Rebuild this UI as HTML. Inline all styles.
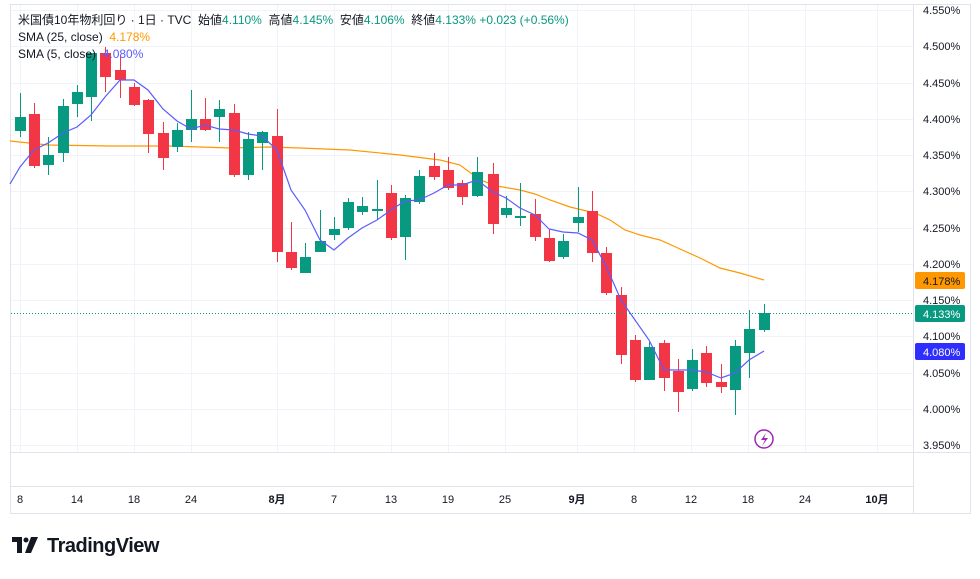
<!DOCTYPE html>
<html><head><meta charset="utf-8"><style>
body{margin:0;background:#fff;width:980px;height:574px;overflow:hidden;font-family:"Liberation Sans","Noto Sans CJK JP",sans-serif}
</style></head><body>
<svg width="980" height="574" viewBox="0 0 980 574" xmlns="http://www.w3.org/2000/svg" font-family="Liberation Sans, Noto Sans CJK JP, sans-serif">
<rect x="10.5" y="4.5" width="960" height="509" fill="#fff" stroke="#e0e3eb"/>
<g stroke="#f0f3fa" stroke-width="1">
<line x1="11" x2="913" y1="10.5" y2="10.5"/><line x1="11" x2="913" y1="46.5" y2="46.5"/><line x1="11" x2="913" y1="83.5" y2="83.5"/><line x1="11" x2="913" y1="119.5" y2="119.5"/><line x1="11" x2="913" y1="155.5" y2="155.5"/><line x1="11" x2="913" y1="191.5" y2="191.5"/><line x1="11" x2="913" y1="228.5" y2="228.5"/><line x1="11" x2="913" y1="264.5" y2="264.5"/><line x1="11" x2="913" y1="300.5" y2="300.5"/><line x1="11" x2="913" y1="336.5" y2="336.5"/><line x1="11" x2="913" y1="373.5" y2="373.5"/><line x1="11" x2="913" y1="409.5" y2="409.5"/><line x1="11" x2="913" y1="445.5" y2="445.5"/>
<line x1="20.5" x2="20.5" y1="5" y2="452"/><line x1="77.5" x2="77.5" y1="5" y2="452"/><line x1="134.5" x2="134.5" y1="5" y2="452"/><line x1="191.5" x2="191.5" y1="5" y2="452"/><line x1="277.5" x2="277.5" y1="5" y2="452"/><line x1="334.5" x2="334.5" y1="5" y2="452"/><line x1="391.5" x2="391.5" y1="5" y2="452"/><line x1="448.5" x2="448.5" y1="5" y2="452"/><line x1="505.5" x2="505.5" y1="5" y2="452"/><line x1="577.5" x2="577.5" y1="5" y2="452"/><line x1="634.5" x2="634.5" y1="5" y2="452"/><line x1="691.5" x2="691.5" y1="5" y2="452"/><line x1="748.5" x2="748.5" y1="5" y2="452"/><line x1="805.5" x2="805.5" y1="5" y2="452"/><line x1="877.5" x2="877.5" y1="5" y2="452"/>
</g>
<line x1="11" x2="970" y1="452.5" y2="452.5" stroke="#e0e3eb"/>
<line x1="11" x2="913" y1="486.5" y2="486.5" stroke="#e0e3eb"/>
<line x1="913.5" x2="913.5" y1="5" y2="513" stroke="#e0e3eb"/>
<polyline fill="none" stroke="#ff9800" stroke-width="1.2" points="10,141 48,145 110,146 170,146 230,148 270,147 300,148 350,150 400,155 440,160 460,165 480,180 497,186 520,190 535,194 550,200 570,207 595,213 610,220 625,230 640,235 660,240 680,249 700,258 720,268 740,273 764,280"/>
<g fill="#089981" stroke="#089981">
<line x1="20.5" x2="20.5" y1="93" y2="137"/><rect x="15" y="117" width="11" height="14" stroke="none"/>
<line x1="48.5" x2="48.5" y1="137" y2="175"/><rect x="43" y="155" width="11" height="10" stroke="none"/>
<line x1="63.5" x2="63.5" y1="99" y2="162"/><rect x="58" y="106" width="11" height="47" stroke="none"/>
<line x1="77.5" x2="77.5" y1="85" y2="117"/><rect x="72" y="92" width="11" height="12" stroke="none"/>
<line x1="91.5" x2="91.5" y1="53" y2="121"/><rect x="86" y="53" width="11" height="44" stroke="none"/>
<line x1="177.5" x2="177.5" y1="123" y2="152"/><rect x="172" y="130" width="11" height="17" stroke="none"/>
<line x1="191.5" x2="191.5" y1="90" y2="142"/><rect x="186" y="119" width="11" height="11" stroke="none"/>
<line x1="219.5" x2="219.5" y1="100" y2="142"/><rect x="214" y="109" width="11" height="8" stroke="none"/>
<line x1="248.5" x2="248.5" y1="132" y2="180"/><rect x="243" y="139" width="11" height="36" stroke="none"/>
<line x1="262.5" x2="262.5" y1="131" y2="170"/><rect x="257" y="132" width="11" height="11" stroke="none"/>
<line x1="305.5" x2="305.5" y1="243" y2="273"/><rect x="300" y="257" width="11" height="16" stroke="none"/>
<line x1="320.5" x2="320.5" y1="210" y2="252"/><rect x="315" y="241" width="11" height="11" stroke="none"/>
<line x1="334.5" x2="334.5" y1="217" y2="240"/><rect x="329" y="229" width="11" height="6" stroke="none"/>
<line x1="348.5" x2="348.5" y1="198" y2="230"/><rect x="343" y="202" width="11" height="26" stroke="none"/>
<line x1="362.5" x2="362.5" y1="197" y2="215"/><rect x="357" y="206" width="11" height="6" stroke="none"/>
<line x1="377.5" x2="377.5" y1="180" y2="220"/><rect x="372" y="209" width="11" height="2" stroke="none"/>
<line x1="405.5" x2="405.5" y1="195" y2="260"/><rect x="400" y="198" width="11" height="39" stroke="none"/>
<line x1="419.5" x2="419.5" y1="170" y2="204"/><rect x="414" y="176" width="11" height="26" stroke="none"/>
<line x1="477.5" x2="477.5" y1="157" y2="197"/><rect x="472" y="172" width="11" height="24" stroke="none"/>
<line x1="506.5" x2="506.5" y1="196" y2="218"/><rect x="501" y="208" width="11" height="7" stroke="none"/>
<line x1="520.5" x2="520.5" y1="183" y2="226"/><rect x="515" y="216" width="11" height="2" stroke="none"/>
<line x1="563.5" x2="563.5" y1="234" y2="259"/><rect x="558" y="241" width="11" height="16" stroke="none"/>
<line x1="578.5" x2="578.5" y1="187" y2="232"/><rect x="573" y="217" width="11" height="6" stroke="none"/>
<line x1="649.5" x2="649.5" y1="342" y2="380"/><rect x="644" y="347" width="11" height="33" stroke="none"/>
<line x1="692.5" x2="692.5" y1="349" y2="391"/><rect x="687" y="360" width="11" height="29" stroke="none"/>
<line x1="735.5" x2="735.5" y1="340" y2="415"/><rect x="730" y="346" width="11" height="44" stroke="none"/>
<line x1="749.5" x2="749.5" y1="310" y2="378"/><rect x="744" y="329" width="11" height="24" stroke="none"/>
<line x1="764.5" x2="764.5" y1="304" y2="332"/><rect x="759" y="313" width="11" height="17" stroke="none"/>
</g>
<g fill="#f23645" stroke="#f23645">
<line x1="34.5" x2="34.5" y1="103" y2="168"/><rect x="29" y="114" width="11" height="52" stroke="none"/>
<line x1="105.5" x2="105.5" y1="47" y2="92"/><rect x="100" y="53" width="11" height="24" stroke="none"/>
<line x1="120.5" x2="120.5" y1="55" y2="98"/><rect x="115" y="70" width="11" height="10" stroke="none"/>
<line x1="134.5" x2="134.5" y1="83" y2="106"/><rect x="129" y="87" width="11" height="18" stroke="none"/>
<line x1="148.5" x2="148.5" y1="99" y2="153"/><rect x="143" y="100" width="11" height="34" stroke="none"/>
<line x1="163.5" x2="163.5" y1="122" y2="170"/><rect x="158" y="133" width="11" height="25" stroke="none"/>
<line x1="205.5" x2="205.5" y1="98" y2="131"/><rect x="200" y="119" width="11" height="11" stroke="none"/>
<line x1="234.5" x2="234.5" y1="104" y2="177"/><rect x="229" y="113" width="11" height="62" stroke="none"/>
<line x1="277.5" x2="277.5" y1="109" y2="262"/><rect x="272" y="136" width="11" height="116" stroke="none"/>
<line x1="291.5" x2="291.5" y1="222" y2="270"/><rect x="286" y="252" width="11" height="16" stroke="none"/>
<line x1="391.5" x2="391.5" y1="185" y2="240"/><rect x="386" y="193" width="11" height="45" stroke="none"/>
<line x1="434.5" x2="434.5" y1="153" y2="180"/><rect x="429" y="166" width="11" height="11" stroke="none"/>
<line x1="448.5" x2="448.5" y1="157" y2="190"/><rect x="443" y="170" width="11" height="18" stroke="none"/>
<line x1="462.5" x2="462.5" y1="180" y2="205"/><rect x="457" y="183" width="11" height="14" stroke="none"/>
<line x1="493.5" x2="493.5" y1="163" y2="234"/><rect x="488" y="174" width="11" height="50" stroke="none"/>
<line x1="535.5" x2="535.5" y1="199" y2="241"/><rect x="530" y="214" width="11" height="23" stroke="none"/>
<line x1="549.5" x2="549.5" y1="229" y2="262"/><rect x="544" y="238" width="11" height="23" stroke="none"/>
<line x1="592.5" x2="592.5" y1="191" y2="262"/><rect x="587" y="211" width="11" height="42" stroke="none"/>
<line x1="606.5" x2="606.5" y1="247" y2="295"/><rect x="601" y="253" width="11" height="40" stroke="none"/>
<line x1="621.5" x2="621.5" y1="287" y2="364"/><rect x="616" y="295" width="11" height="60" stroke="none"/>
<line x1="635.5" x2="635.5" y1="335" y2="382"/><rect x="630" y="340" width="11" height="40" stroke="none"/>
<line x1="664.5" x2="664.5" y1="340" y2="391"/><rect x="659" y="343" width="11" height="35" stroke="none"/>
<line x1="678.5" x2="678.5" y1="359" y2="412"/><rect x="673" y="371" width="11" height="21" stroke="none"/>
<line x1="706.5" x2="706.5" y1="346" y2="387"/><rect x="701" y="353" width="11" height="30" stroke="none"/>
<line x1="721.5" x2="721.5" y1="364" y2="393"/><rect x="716" y="382" width="11" height="5" stroke="none"/>
</g>
<polyline fill="none" stroke="#5b5bff" stroke-width="1.2" points="10,184 20,167 34,150 48,143 63,133 77,127 91,115 105,97 120,80 134,80 148,90 163,109 177,121 191,129 205,125 219,129 234,130 248,134 262,136 277,150 291,190 305,210 320,240 334,250 348,238 362,228 377,220 391,210 405,201 419,200 434,193 448,185 462,185 477,180 493,192 506,198 520,208 535,215 549,229 563,232 578,233 592,240 606,266 621,300 635,320 649,340 664,370 678,370 692,370 706,372 721,378 735,373 749,360 764,351"/>
<line x1="11" x2="913" y1="313.5" y2="313.5" stroke="#089981" stroke-dasharray="1 2"/>
<g font-size="11" fill="#131722">
<text x="923" y="14">4.550%</text><text x="923" y="50">4.500%</text><text x="923" y="87">4.450%</text><text x="923" y="123">4.400%</text><text x="923" y="159">4.350%</text><text x="923" y="195">4.300%</text><text x="923" y="232">4.250%</text><text x="923" y="268">4.200%</text><text x="923" y="304">4.150%</text><text x="923" y="340">4.100%</text><text x="923" y="377">4.050%</text><text x="923" y="413">4.000%</text><text x="923" y="449">3.950%</text>
</g>
<rect x="915" y="272" width="50" height="17" rx="2" fill="#ff9800"/><text x="923" y="285" font-size="11" fill="#131722">4.178%</text>
<rect x="915" y="305" width="50" height="17" rx="2" fill="#089981"/><text x="923" y="318" font-size="11" fill="#fff">4.133%</text>
<rect x="915" y="343" width="50" height="17" rx="2" fill="#2e2eff"/><text x="923" y="356" font-size="11" fill="#fff">4.080%</text>
<circle cx="764" cy="439" r="9" fill="none" stroke="#9c27b0" stroke-width="1.5"/><path d="M766,433 L761,440 L765,440 L762,446 L768,438 L764,438 Z" fill="#9c27b0"/>
<g font-size="11" fill="#131722" text-anchor="middle">
<text x="20" y="503">8</text><text x="77" y="503">14</text><text x="134" y="503">18</text><text x="191" y="503">24</text><text x="277" y="503" font-weight="bold">8月</text><text x="334" y="503">7</text><text x="391" y="503">13</text><text x="448" y="503">19</text><text x="505" y="503">25</text><text x="577" y="503" font-weight="bold">9月</text><text x="634" y="503">8</text><text x="691" y="503">12</text><text x="748" y="503">18</text><text x="805" y="503">24</text><text x="877" y="503" font-weight="bold">10月</text>
</g>
<g font-size="12" fill="#131722">
<text x="18" y="24">米国債10年物利回り · 1日 · TVC &#160;始値<tspan fill="#089981">4.110%</tspan> &#160;高値<tspan fill="#089981">4.145%</tspan> &#160;安値<tspan fill="#089981">4.106%</tspan> &#160;終値<tspan fill="#089981">4.133%</tspan> <tspan fill="#089981">+0.023 (+0.56%)</tspan></text>
<text x="18" y="41">SMA (25, close) &#160;<tspan fill="#ff9800">4.178%</tspan></text>
<text x="18" y="58">SMA (5, close) &#160;<tspan fill="#5b5bff">4.080%</tspan></text>
</g>
<g fill="#131722"><path d="M12,537 h10 v16 h-5 v-11 h-5 z"/><circle cx="26" cy="540" r="2.5"/><path d="M31,537 h7 l-7,16 h-6 z"/></g>
<text x="47" y="552" font-size="20" font-weight="bold" fill="#131722" letter-spacing="-0.5">TradingView</text>
</svg>
</body></html>
